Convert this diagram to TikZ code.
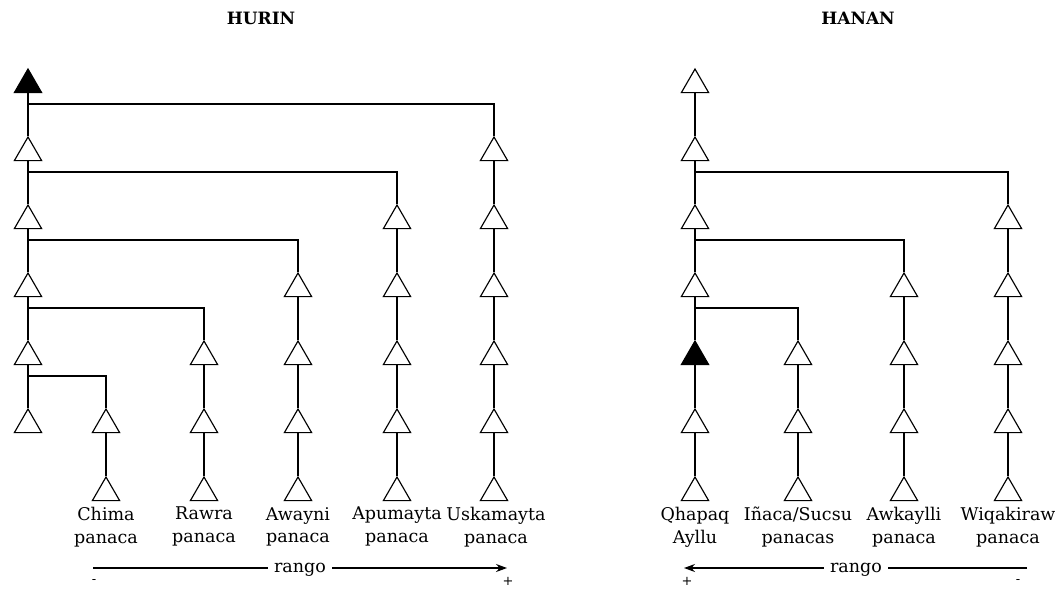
\documentclass[tikz,border=0pt]{standalone}
\usepackage{fontspec}
\setmainfont{DejaVu Serif}
\usetikzlibrary{shapes.geometric,arrows.meta}
\newcommand\labfont{\fontsize{17.5}{22.5}\selectfont}
\newcommand\ttlfont{\bfseries\fontsize{17}{19}\selectfont}
\newcommand\sgnfont{\fontsize{13}{15}\selectfont}
\tikzset{
  tri/.style={regular polygon, regular polygon sides=3, draw=black, line width=1.15pt,
              minimum size=31.5pt, inner sep=0pt, fill=white},
  trif/.style={tri, fill=black},
  conn/.style={line width=1.15pt, draw=black},
  lab/.style={font=\labfont, align=center, anchor=north, inner sep=0pt},
  ttl/.style={font=\ttlfont, inner sep=0pt},
  rng/.style={font=\labfont, inner xsep=6pt, inner ysep=0pt, anchor=base},
  sgn/.style={font=\sgnfont, inner sep=0pt},
  arr/.style={conn, -{Stealth[length=11pt,width=8pt]}},
}
\begin{document}
\begin{tikzpicture}[x=1pt,y=-1pt]
\useasboundingbox (0,0) rectangle (1062,590);

% titles
\node[ttl] (hurin) at (261,18) {HURIN};
\node[ttl] (hanan) at (858,18) {HANAN};

% triangles (open)
\foreach \n/\x/\ks in {M/28/{1,...,5}, U/494/{1,...,6}, P/397/{2,...,6}, A/298/{3,...,6},
                       R/204/{4,...,6}, C/106/{5,...,6},
                       Q/695/{0,...,3,5,6}, W/1008/{2,...,6}, K/904/{3,...,6}, I/798/{4,...,6}} {
  \foreach \k in \ks {
    \node[tri] (\n\k) at (\x, 84.75+68*\k) {};
  }
}
% filled triangles
\node[trif] (M0) at (28, 84.75) {};
\node[trif] (Q4) at (695, 84.75+68*4) {};

% vertical chains
\foreach \n/\s/\e in {M/0/5, U/1/6, P/2/6, A/3/6, R/4/6, C/5/6, Q/0/6, W/2/6, K/3/6, I/4/6} {
  \pgfmathtruncatemacro\ee{\e-1}
  \foreach \k in {\s,...,\ee} {
    \pgfmathtruncatemacro\kk{\k+1}
    \draw[conn] (\n\k.south) -- (\n\kk.north);
  }
}

% branch junctions
\coordinate (jU) at (28,104);
\coordinate (jP) at (28,172);
\coordinate (jA) at (28,240);
\coordinate (jR) at (28,308);
\coordinate (jC) at (28,376);
\coordinate (jW) at (695,172);
\coordinate (jK) at (695,240);
\coordinate (jI) at (695,308);
\draw[conn] (jU) -| (U1.north);
\draw[conn] (jP) -| (P2.north);
\draw[conn] (jA) -| (A3.north);
\draw[conn] (jR) -| (R4.north);
\draw[conn] (jC) -| (C5.north);
\draw[conn] (jW) -| (W2.north);
\draw[conn] (jK) -| (K3.north);
\draw[conn] (jI) -| (I4.north);

% labels
\node[lab] (lC) at (106,507) {Chima\\panaca};
\node[lab] (lR) at (204,507) {Rawra\\panaca};
\node[lab] (lA) at (298,507) {Awayni\\panaca};
\node[lab] (lP) at (397,507) {Apumayta\\panaca};
\node[lab] (lU) at (496,507) {Uskamayta\\panaca};
\node[lab] (lQ) at (695,507) {Qhapaq\\Ayllu};
\node[lab] (lI) at (798,507) {Iñaca/Sucsu\\panacas};
\node[lab] (lK) at (904,507) {Awkaylli\\panaca};
\node[lab] (lW) at (1008,507) {Wiqakiraw\\panaca};

% rango arrows
\node[rng] (rgL) at (300,572.5) {rango};
\coordinate (aLs) at (93,568);
\coordinate (aLe) at (507,568);
\draw[conn] (aLs) -- (rgL.west |- aLs);
\draw[arr] (rgL.east |- aLe) -- (aLe);

\node[rng] (rgR) at (856,572.5) {rango};
\coordinate (aRs) at (1027,568);
\coordinate (aRe) at (684,568);
\draw[conn] (aRs) -- (rgR.east |- aRs);
\draw[arr] (rgR.west |- aRe) -- (aRe);

% signs
\node[sgn] (mL) at (94,581) {-};
\node[sgn] (pL) at (508,581) {+};
\node[sgn] (pR) at (687,581) {+};
\node[sgn] (mR) at (1018,581) {-};
\end{tikzpicture}
\end{document}
